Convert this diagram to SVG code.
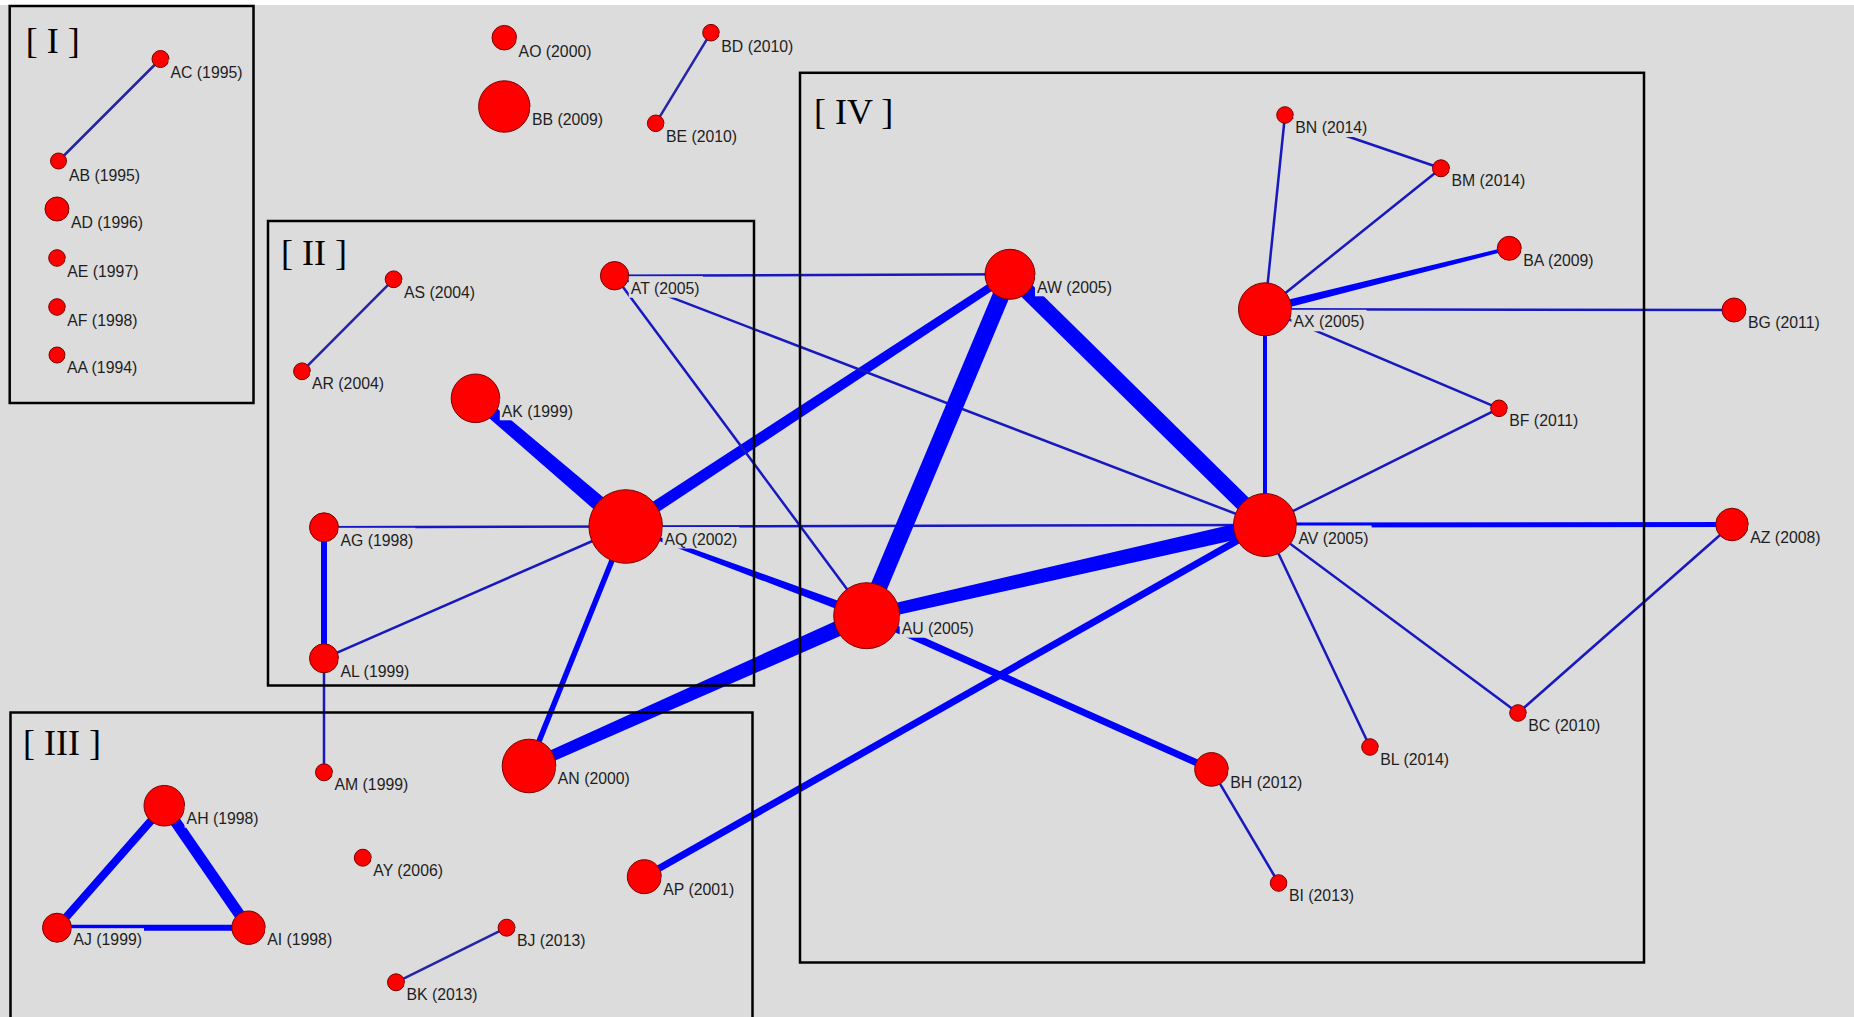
<svg xmlns="http://www.w3.org/2000/svg" width="1854" height="1017" viewBox="0 0 1854 1017">
<style>
.n{fill:#ff0000;stroke:#7a0000;stroke-width:1}
.lb{fill:#dcdcdc}
.t{font-family:"Liberation Sans",Arial,sans-serif;font-size:15.8px;fill:#1e1e1e}
.e{stroke:#0000ff;stroke-linecap:butt;fill:none}
.th{stroke:#1818c0;stroke-width:2.5}
.dk{stroke:#2424a8;stroke-width:2.5}
.p{fill:#0000ff}
.box{fill:none;stroke:#000;stroke-width:2.5}
.rn{font-family:"Liberation Serif","Times New Roman",serif;font-size:36px;fill:#000}
</style>
<rect x="0" y="0" width="1854" height="1017" fill="#dcdcdc"/>
<rect x="0" y="0" width="1854" height="5" fill="#ffffff"/>
<g id="connectors">
<line class="e dk" x1="160.5" y1="59" x2="58.5" y2="161"/>
<line class="e dk" x1="393.6" y1="279.3" x2="302" y2="371.3"/>
<line class="e dk" x1="711" y1="32.7" x2="655.7" y2="123.3"/>
<line class="e dk" x1="506.6" y1="927.7" x2="396" y2="982.3"/>
<line class="e" stroke-width="8" x1="164.3" y1="805.7" x2="57" y2="927.7"/>
<line class="e" stroke-width="11" x1="164.3" y1="805.7" x2="248.5" y2="927.7"/>
<line class="e" stroke-width="6" x1="57" y1="927.7" x2="248.5" y2="927.7"/>
<line class="e" stroke-width="6" x1="324" y1="527.3" x2="324" y2="658.3"/>
<line class="e th" x1="324" y1="527.3" x2="625.7" y2="526.5"/>
<line class="e th" x1="324" y1="658.3" x2="625.7" y2="526.5"/>
<line class="e th" x1="324" y1="658.3" x2="324" y2="772.3"/>
<polygon class="p" points="471.6,402.9 620.5,532.6 630.9,520.4 479.4,393.7"/>
<polygon class="p" points="629.0,531.5 1012.2,277.6 1007.8,271.0 622.4,521.5"/>
<line class="e th" x1="625.7" y1="526.5" x2="1265" y2="525"/>
<polygon class="p" points="625.2,527.9 865.1,619.9 868.3,611.5 626.2,525.1"/>
<line class="e" stroke-width="5.5" x1="625.7" y1="526.5" x2="529" y2="766"/>
<line class="e th" x1="614.6" y1="275.7" x2="1010" y2="274.3"/>
<line class="e th" x1="614.6" y1="275.7" x2="1265" y2="525"/>
<line class="e th" x1="614.6" y1="275.7" x2="866.7" y2="615.7"/>
<line class="e" stroke-width="17" x1="1010" y1="274.3" x2="866.7" y2="615.7"/>
<line class="e" stroke-width="16" x1="1010" y1="274.3" x2="1265" y2="525"/>
<polygon class="p" points="868.0,621.6 1266.8,532.8 1263.2,517.2 865.4,609.9"/>
<polygon class="p" points="863.4,608.4 526.8,761.0 531.2,771.0 870.0,623.0"/>
<line class="e" stroke-width="7" x1="866.7" y1="615.7" x2="1211.5" y2="769.4"/>
<line class="e" stroke-width="7" x1="1265" y1="525" x2="644.3" y2="876.7"/>
<line class="e" stroke-width="4" x1="1265" y1="525" x2="1265" y2="309.3"/>
<line class="e" stroke-width="5" x1="1265" y1="525" x2="1732" y2="524.5"/>
<line class="e th" stroke-width="3" x1="1265" y1="525" x2="1499" y2="408.3"/>
<line class="e th" x1="1265" y1="525" x2="1370" y2="747"/>
<line class="e th" stroke-width="3" x1="1265" y1="525" x2="1518" y2="713"/>
<line class="e th" x1="1732" y1="524.5" x2="1518" y2="713"/>
<line class="e th" x1="1265" y1="309.3" x2="1285" y2="115"/>
<line class="e th" x1="1265" y1="309.3" x2="1441" y2="168.3"/>
<polygon class="p" points="1266.0,313.2 1509.7,250.0 1508.9,246.6 1264.0,305.4"/>
<line class="e th" stroke-width="3" x1="1265" y1="309.3" x2="1734" y2="310"/>
<line class="e th" x1="1265" y1="309.3" x2="1499" y2="408.3"/>
<line class="e th" x1="1285" y1="115" x2="1441" y2="168.3"/>
<line class="e th" x1="1211.5" y1="769.4" x2="1278.6" y2="883"/>
</g>
<g id="groups">
<rect class="box" x="9.7" y="6" width="243.8" height="397"/>
<rect class="box" x="268" y="221" width="486" height="464.5"/>
<rect class="box" x="10.5" y="712.5" width="742" height="330"/>
<rect class="box" x="800" y="72.8" width="844" height="889.7"/>
</g>
<g id="node-AA"><circle class="n" cx="57" cy="355" r="8"/><rect class="lb" x="65" y="355.5" width="75.1" height="21.5"/><text class="t" x="67" y="373.3">AA (1994)</text></g>
<g id="node-AB"><circle class="n" cx="58.5" cy="161" r="8"/><rect class="lb" x="67" y="161.5" width="75.1" height="21.5"/><text class="t" x="69" y="180.5">AB (1995)</text></g>
<g id="node-AC"><circle class="n" cx="160.5" cy="59" r="8.5"/><rect class="lb" x="168.5" y="59.5" width="76" height="21.5"/><text class="t" x="170.5" y="78">AC (1995)</text></g>
<g id="node-AD"><circle class="n" cx="57" cy="209" r="12"/><rect class="lb" x="69" y="209.5" width="76" height="21.5"/><text class="t" x="71" y="228">AD (1996)</text></g>
<g id="node-AE"><circle class="n" cx="57" cy="258" r="8.3"/><rect class="lb" x="65.3" y="258.5" width="75.1" height="21.5"/><text class="t" x="67.3" y="277">AE (1997)</text></g>
<g id="node-AF"><circle class="n" cx="57" cy="307" r="8.3"/><rect class="lb" x="65.3" y="307.5" width="74.2" height="21.5"/><text class="t" x="67.3" y="325.5">AF (1998)</text></g>
<g id="node-AO"><circle class="n" cx="504.3" cy="37.7" r="12.3"/><rect class="lb" x="516.6" y="38.2" width="76.9" height="21.5"/><text class="t" x="518.6" y="56.5">AO (2000)</text></g>
<g id="node-BB"><circle class="n" cx="504.3" cy="106.5" r="25.7"/><rect class="lb" x="530" y="107" width="75.1" height="21.5"/><text class="t" x="532" y="124.5">BB (2009)</text></g>
<g id="node-BD"><circle class="n" cx="711" cy="32.7" r="8.3"/><rect class="lb" x="719.3" y="33.2" width="76" height="21.5"/><text class="t" x="721.3" y="52">BD (2010)</text></g>
<g id="node-BE"><circle class="n" cx="655.7" cy="123.3" r="8.3"/><rect class="lb" x="664" y="123.8" width="75.1" height="21.5"/><text class="t" x="666" y="141.7">BE (2010)</text></g>
<g id="node-AS"><circle class="n" cx="393.6" cy="279.3" r="8.4"/><rect class="lb" x="402" y="279.8" width="75.1" height="21.5"/><text class="t" x="404" y="297.5">AS (2004)</text></g>
<g id="node-AR"><circle class="n" cx="302" cy="371.3" r="8.4"/><rect class="lb" x="310" y="371.8" width="76" height="21.5"/><text class="t" x="312" y="389.3">AR (2004)</text></g>
<g id="node-AT"><circle class="n" cx="614.6" cy="275.7" r="14.2"/><rect class="lb" x="628.8" y="276.2" width="74.2" height="21.5"/><text class="t" x="630.8" y="294">AT (2005)</text></g>
<g id="node-AK"><circle class="n" cx="475.5" cy="398.3" r="24.3"/><rect class="lb" x="499.8" y="398.8" width="75.1" height="21.5"/><text class="t" x="501.8" y="416.7">AK (1999)</text></g>
<g id="node-AQ"><circle class="n" cx="625.7" cy="526.5" r="36.8"/><rect class="lb" x="662.5" y="527" width="76.9" height="21.5"/><text class="t" x="664.5" y="545">AQ (2002)</text></g>
<g id="node-AG"><circle class="n" cx="324" cy="527.3" r="14.5"/><rect class="lb" x="338.5" y="527.8" width="76.9" height="21.5"/><text class="t" x="340.5" y="545.7">AG (1998)</text></g>
<g id="node-AL"><circle class="n" cx="324" cy="658.3" r="14.5"/><rect class="lb" x="338.5" y="658.8" width="73.4" height="21.5"/><text class="t" x="340.5" y="676.5">AL (1999)</text></g>
<g id="node-AM"><circle class="n" cx="324" cy="772.3" r="8.5"/><rect class="lb" x="332.5" y="772.8" width="77.8" height="21.5"/><text class="t" x="334.5" y="790">AM (1999)</text></g>
<g id="node-AN"><circle class="n" cx="529" cy="766" r="26.8"/><rect class="lb" x="555.8" y="766.5" width="76" height="21.5"/><text class="t" x="557.8" y="783.8">AN (2000)</text></g>
<g id="node-AH"><circle class="n" cx="164.3" cy="805.7" r="20.3"/><rect class="lb" x="184.6" y="806.2" width="76" height="21.5"/><text class="t" x="186.6" y="824">AH (1998)</text></g>
<g id="node-AJ"><circle class="n" cx="57" cy="927.7" r="14.5"/><rect class="lb" x="71.5" y="928.2" width="72.5" height="21.5"/><text class="t" x="73.5" y="945">AJ (1999)</text></g>
<g id="node-AI"><circle class="n" cx="248.5" cy="927.7" r="16.7"/><rect class="lb" x="265.2" y="928.2" width="69" height="21.5"/><text class="t" x="267.2" y="945">AI (1998)</text></g>
<g id="node-AY"><circle class="n" cx="362.8" cy="857.7" r="8.5"/><rect class="lb" x="371.3" y="858.2" width="75.1" height="21.5"/><text class="t" x="373.3" y="875.5">AY (2006)</text></g>
<g id="node-AP"><circle class="n" cx="644.3" cy="876.7" r="17"/><rect class="lb" x="661.3" y="877.2" width="75.1" height="21.5"/><text class="t" x="663.3" y="894.5">AP (2001)</text></g>
<g id="node-BJ"><circle class="n" cx="506.6" cy="927.7" r="8.5"/><rect class="lb" x="515" y="928.2" width="72.5" height="21.5"/><text class="t" x="517" y="945.5">BJ (2013)</text></g>
<g id="node-BK"><circle class="n" cx="396" cy="982.3" r="8.5"/><rect class="lb" x="404.5" y="982.8" width="75.1" height="21.5"/><text class="t" x="406.5" y="1000">BK (2013)</text></g>
<g id="node-AW"><circle class="n" cx="1010" cy="274.3" r="25"/><rect class="lb" x="1035" y="274.8" width="79.5" height="21.5"/><text class="t" x="1037" y="293">AW (2005)</text></g>
<g id="node-AU"><circle class="n" cx="866.7" cy="615.7" r="33"/><rect class="lb" x="899.7" y="616.2" width="76" height="21.5"/><text class="t" x="901.7" y="634">AU (2005)</text></g>
<g id="node-AV"><circle class="n" cx="1265" cy="525" r="31.5"/><rect class="lb" x="1296.5" y="525.5" width="75.1" height="21.5"/><text class="t" x="1298.5" y="544">AV (2005)</text></g>
<g id="node-AX"><circle class="n" cx="1265" cy="309.3" r="26.5"/><rect class="lb" x="1291.5" y="309.8" width="75.1" height="21.5"/><text class="t" x="1293.5" y="327">AX (2005)</text></g>
<g id="node-BN"><circle class="n" cx="1285" cy="115" r="8.3"/><rect class="lb" x="1293.3" y="115.5" width="76" height="21.5"/><text class="t" x="1295.3" y="133">BN (2014)</text></g>
<g id="node-BM"><circle class="n" cx="1441" cy="168.3" r="8.5"/><rect class="lb" x="1449.5" y="168.8" width="77.8" height="21.5"/><text class="t" x="1451.5" y="186.3">BM (2014)</text></g>
<g id="node-BA"><circle class="n" cx="1509.3" cy="248.3" r="12"/><rect class="lb" x="1521.3" y="248.8" width="75.1" height="21.5"/><text class="t" x="1523.3" y="266">BA (2009)</text></g>
<g id="node-BG"><circle class="n" cx="1734" cy="310" r="12"/><rect class="lb" x="1746" y="310.5" width="76.9" height="21.5"/><text class="t" x="1748" y="328.3">BG (2011)</text></g>
<g id="node-BF"><circle class="n" cx="1499" cy="408.3" r="8.3"/><rect class="lb" x="1507.3" y="408.8" width="74.2" height="21.5"/><text class="t" x="1509.3" y="426">BF (2011)</text></g>
<g id="node-AZ"><circle class="n" cx="1732" cy="524.5" r="16.3"/><rect class="lb" x="1748.3" y="525" width="74.2" height="21.5"/><text class="t" x="1750.3" y="543">AZ (2008)</text></g>
<g id="node-BC"><circle class="n" cx="1518" cy="713" r="8.3"/><rect class="lb" x="1526.3" y="713.5" width="76" height="21.5"/><text class="t" x="1528.3" y="730.8">BC (2010)</text></g>
<g id="node-BL"><circle class="n" cx="1370" cy="747" r="8.3"/><rect class="lb" x="1378.3" y="747.5" width="73.4" height="21.5"/><text class="t" x="1380.3" y="765.3">BL (2014)</text></g>
<g id="node-BH"><circle class="n" cx="1211.5" cy="769.4" r="16.8"/><rect class="lb" x="1228.3" y="769.9" width="76" height="21.5"/><text class="t" x="1230.3" y="787.5">BH (2012)</text></g>
<g id="node-BI"><circle class="n" cx="1278.6" cy="883" r="8.3"/><rect class="lb" x="1287" y="883.5" width="69" height="21.5"/><text class="t" x="1289" y="900.8">BI (2013)</text></g>
<g id="titles">
<text class="rn" x="25.7" y="53">[ I ]</text>
<text class="rn" x="281" y="265">[ II ]</text>
<text class="rn" x="23" y="755">[ III ]</text>
<text class="rn" x="814" y="123.5">[ IV ]</text>
</g>
</svg>
